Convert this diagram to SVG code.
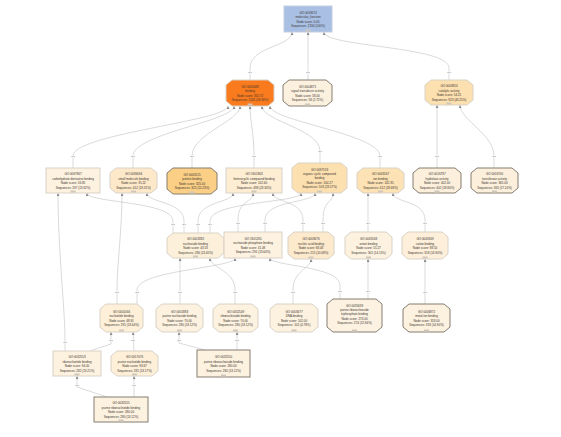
<svg xmlns="http://www.w3.org/2000/svg" width="561" height="437" viewBox="0 0 561 437">
<style>
.bg{fill:#ffffff}
.e{fill:none;stroke:#b4b4b4;stroke-width:0.5}
.lb{font-family:"Liberation Sans",Arial,sans-serif;font-size:2.4px;fill:#666;text-anchor:middle;stroke:#fff;stroke-width:0.8;paint-order:stroke}
.t{font-family:"Liberation Sans",Arial,sans-serif;font-size:3px;fill:#3a3530;text-anchor:middle}
.n{stroke:#d9d2c7;stroke-width:1}
.dk{stroke:#857c71;stroke-width:1}
.cr{fill:#fdf1df}
.m{fill:#cfc7bb}
</style>
<defs>
<marker id="ah" viewBox="0 0 6 6" refX="6" refY="3" markerWidth="3" markerHeight="3" markerUnits="userSpaceOnUse" orient="auto-start-reverse">
<path d="M0,0 L6,3 L0,6 z" fill="#8a8a8a"/>
</marker>
</defs>
<rect class="bg" x="0" y="0" width="561" height="437"/>

<g id="connectors">
<path class="e" marker-start="url(#ah)" d="M292,32 C292,47 250,46 250,68 L250,80"/>
<path class="e" marker-start="url(#ah)" d="M308,32 L308,80"/>
<path class="e" marker-start="url(#ah)" d="M324,32 C324,47 449,46 449,68 L449,80"/>
<path class="e" marker-start="url(#ah)" d="M228,106 C228,121 73,134 73,156 L73,168"/>
<path class="e" marker-start="url(#ah)" d="M234,106 C234,121 133,134 133,156 L133,168"/>
<path class="e" marker-start="url(#ah)" d="M240,106 C240,121 192,134 192,156 L192,168"/>
<path class="e" marker-start="url(#ah)" d="M250,106 C250,121 254,134 254,156 L254,168"/>
<path class="e" marker-start="url(#ah)" d="M262,106 C262,121 320,129 320,151 L320,163"/>
<path class="e" marker-start="url(#ah)" d="M270,106 C270,121 380,134 380,156 L380,168"/>
<path class="e" marker-start="url(#ah)" d="M437,105 L437,168"/>
<path class="e" marker-start="url(#ah)" d="M460,105 C460,120 494,134 494,156 L494,168"/>
<path class="e" marker-start="url(#ah)" d="M87,193 C87,203 173,201 173,221 L173,233"/>
<path class="e" marker-start="url(#ah)" d="M147,193 C147,203 184,201 184,221 L184,233"/>
<path class="e" marker-start="url(#ah)" d="M233,193 C233,203 198,201 198,221 L198,233"/>
<path class="e" marker-start="url(#ah)" d="M301,193 C301,203 210,201 210,221 L210,233"/>
<path class="e" marker-start="url(#ah)" d="M253,193 C253,203 238,200 238,220 L238,232"/>
<path class="e" marker-start="url(#ah)" d="M315,193 C315,203 265,200 265,220 L265,232"/>
<path class="e" marker-start="url(#ah)" d="M273,193 C273,203 303,200 303,220 L303,232"/>
<path class="e" marker-start="url(#ah)" d="M333,193 C333,203 323,200 323,220 L323,232"/>
<path class="e" marker-start="url(#ah)" d="M368,193 L368,232"/>
<path class="e" marker-start="url(#ah)" d="M393,193 C393,203 425,200 425,220 L425,232"/>
<path class="e" marker-start="url(#ah)" d="M58,193 C58,250 65,310 65,339 L65,351"/>
<path class="e" marker-start="url(#ah)" d="M122,193 C122,230 117,265 117,290 L117,304"/>
<path class="e" marker-start="url(#ah)" d="M235,258 C235,268 137,270 137,290 L137,304"/>
<path class="e" marker-start="url(#ah)" d="M180,258 L180,304"/>
<path class="e" marker-start="url(#ah)" d="M210,258 C210,268 235,270 235,290 L235,304"/>
<path class="e" marker-start="url(#ah)" d="M311,259 C311,269 293,270 293,290 L293,304"/>
<path class="e" marker-start="url(#ah)" d="M270,258 C270,266 340,266 340,285 L340,299"/>
<path class="e" marker-start="url(#ah)" d="M368,259 L368,299"/>
<path class="e" marker-start="url(#ah)" d="M425,259 L425,304"/>
<path class="e" marker-start="url(#ah)" d="M111,332 L111,344 L90,351"/>
<path class="e" marker-start="url(#ah)" d="M133,332 L134,351"/>
<path class="e" marker-start="url(#ah)" d="M179,332 L179,343 L205,350"/>
<path class="e" marker-start="url(#ah)" d="M237,332 L237,350"/>
<path class="e" marker-start="url(#ah)" d="M77,376 L77,387 L107,397"/>
<path class="e" marker-start="url(#ah)" d="M134,376 L134,397"/>
<text class="lb" x="250" y="73">is a</text>
<text class="lb" x="308" y="73">is a</text>
<text class="lb" x="449" y="73">is a</text>
<text class="lb" x="73" y="157">is a</text>
<text class="lb" x="133" y="157">is a</text>
<text class="lb" x="192" y="157">is a</text>
<text class="lb" x="254" y="157">is a</text>
<text class="lb" x="320" y="152">is a</text>
<text class="lb" x="380" y="157">is a</text>
<text class="lb" x="437" y="157">is a</text>
<text class="lb" x="494" y="157">is a</text>
<text class="lb" x="173" y="225">is a</text>
<text class="lb" x="184" y="225">is a</text>
<text class="lb" x="198" y="225">is a</text>
<text class="lb" x="210" y="225">is a</text>
<text class="lb" x="238" y="224">is a</text>
<text class="lb" x="265" y="224">is a</text>
<text class="lb" x="303" y="224">is a</text>
<text class="lb" x="323" y="224">is a</text>
<text class="lb" x="368" y="224">is a</text>
<text class="lb" x="425" y="224">is a</text>
<text class="lb" x="65" y="343">is a</text>
<text class="lb" x="117" y="293">is a</text>
<text class="lb" x="137" y="293">is a</text>
<text class="lb" x="180" y="293">is a</text>
<text class="lb" x="235" y="293">is a</text>
<text class="lb" x="293" y="293">is a</text>
<text class="lb" x="340" y="292">is a</text>
<text class="lb" x="368" y="292">is a</text>
<text class="lb" x="425" y="293">is a</text>
<text class="lb" x="111" y="341">is a</text>
<text class="lb" x="133" y="341">is a</text>
<text class="lb" x="179" y="341">is a</text>
<text class="lb" x="237" y="341">is a</text>
<text class="lb" x="77" y="386">is a</text>
<text class="lb" x="134" y="386">is a</text>
</g>

<g id="n-GO0003674">
<rect x="284" y="6" width="48" height="26" fill="#a9c0e4" stroke="#c3cde0" stroke-width="1"/>
<text class="t" x="308" y="13.5">GO:0003674</text>
<text class="t" x="308" y="18">molecular_function</text>
<text class="t" x="308" y="22.5">Node score: 0.00</text>
<text class="t" x="308" y="27">Sequences: 2134 (100%)</text>
<rect class="m" x="305.5" y="29.5" width="5" height="2"/>
</g>

<g id="n-GO0005488">
<polygon class="n" fill="#f97b1e" points="232,80 268,80 274,85 274,101 268,106 232,106 226,101 226,85"/>
<text class="t" x="250" y="87.5">GO:0005488</text>
<text class="t" x="250" y="92">binding</text>
<text class="t" x="250" y="96.5">Node score: 310.72</text>
<text class="t" x="250" y="101">Sequences: 1245 (58.34%)</text>
<rect class="m" x="247.5" y="103.5" width="5" height="2"/>
</g>

<g id="n-GO0004871">
<polygon class="dk" fill="#fcf1df" points="289,80 326,80 332,85 332,101 326,106 289,106 283,101 283,85"/>
<text class="t" x="307.5" y="87.5">GO:0004871</text>
<text class="t" x="307.5" y="92">signal transducer activity</text>
<text class="t" x="307.5" y="96.5">Node score: 58.00</text>
<text class="t" x="307.5" y="101">Sequences: 58 (2.72%)</text>
<rect class="m" x="305" y="103.5" width="5" height="2"/>
</g>

<g id="n-GO0003824">
<polygon class="n" fill="#fde0b0" points="431,80 467,80 473,85 473,100 467,105 431,105 425,100 425,85"/>
<text class="t" x="449" y="87">GO:0003824</text>
<text class="t" x="449" y="91.5">catalytic activity</text>
<text class="t" x="449" y="96">Node score: 54.21</text>
<text class="t" x="449" y="100.5">Sequences: 923 (43.25%)</text>
<rect class="m" x="446.5" y="102.5" width="5" height="2"/>
</g>

<g id="n-GO0097367">
<rect class="n cr" x="46" y="168" width="54" height="25"/>
<text class="t" x="73" y="175">GO:0097367</text>
<text class="t" x="73" y="179.5">carbohydrate derivative binding</text>
<text class="t" x="73" y="184">Node score: 16.85</text>
<text class="t" x="73" y="188.5">Sequences: 297 (13.92%)</text>
<rect class="m" x="70.5" y="190.5" width="5" height="2"/>
</g>

<g id="n-GO0036094">
<polygon class="n" fill="#fde9ca" points="116,168 151,168 157,173 157,188 151,193 116,193 110,188 110,173"/>
<text class="t" x="133.5" y="175">GO:0036094</text>
<text class="t" x="133.5" y="179.5">small molecule binding</text>
<text class="t" x="133.5" y="184">Node score: 35.22</text>
<text class="t" x="133.5" y="188.5">Sequences: 412 (19.31%)</text>
<rect class="m" x="131" y="190.5" width="5" height="2"/>
</g>

<g id="n-GO0005515">
<polygon class="dk" fill="#fbcf86" points="173,168 211,168 217,173 217,189 211,194 173,194 167,189 167,173"/>
<text class="t" x="192" y="175.5">GO:0005515</text>
<text class="t" x="192" y="180">protein binding</text>
<text class="t" x="192" y="184.5">Node score: 325.00</text>
<text class="t" x="192" y="189">Sequences: 325 (15.23%)</text>
<rect class="m" x="189.5" y="191.5" width="5" height="2"/>
</g>

<g id="n-GO1901363">
<rect class="n" fill="#fdedd3" x="226" y="168" width="56" height="25"/>
<text class="t" x="254" y="175">GO:1901363</text>
<text class="t" x="254" y="179.5">heterocyclic compound binding</text>
<text class="t" x="254" y="184">Node score: 102.60</text>
<text class="t" x="254" y="188.5">Sequences: 498 (23.34%)</text>
<rect class="m" x="251.5" y="190.5" width="5" height="2"/>
</g>

<g id="n-GO0097159">
<polygon class="n" fill="#fde0b0" points="298,163 341,163 347,168 347,188 341,193 298,193 292,188 292,168"/>
<text class="t" x="319.5" y="171">GO:0097159</text>
<text class="t" x="319.5" y="175">organic cyclic compound</text>
<text class="t" x="319.5" y="179">binding</text>
<text class="t" x="319.5" y="184">Node score: 104.27</text>
<text class="t" x="319.5" y="188">Sequences: 503 (23.57%)</text>
<rect class="m" x="317" y="190.5" width="5" height="2"/>
</g>

<g id="n-GO0043167">
<polygon class="n" fill="#fde2b5" points="363,168 398,168 404,173 404,188 398,193 363,193 357,188 357,173"/>
<text class="t" x="380.5" y="175">GO:0043167</text>
<text class="t" x="380.5" y="179.5">ion binding</text>
<text class="t" x="380.5" y="184">Node score: 142.35</text>
<text class="t" x="380.5" y="188.5">Sequences: 612 (28.68%)</text>
<rect class="m" x="378" y="190.5" width="5" height="2"/>
</g>

<g id="n-GO0016787">
<polygon class="dk" fill="#fcf0dc" points="419,168 455,168 461,173 461,188 455,193 419,193 413,188 413,173"/>
<text class="t" x="437" y="175">GO:0016787</text>
<text class="t" x="437" y="179.5">hydrolase activity</text>
<text class="t" x="437" y="184">Node score: 402.00</text>
<text class="t" x="437" y="188.5">Sequences: 402 (18.84%)</text>
<rect class="m" x="434.5" y="190.5" width="5" height="2"/>
</g>

<g id="n-GO0016740">
<polygon class="dk" fill="#fcf0dc" points="477,168 512,168 518,173 518,188 512,193 477,193 471,188 471,173"/>
<text class="t" x="494.5" y="175">GO:0016740</text>
<text class="t" x="494.5" y="179.5">transferase activity</text>
<text class="t" x="494.5" y="184">Node score: 365.00</text>
<text class="t" x="494.5" y="188.5">Sequences: 365 (17.10%)</text>
<rect class="m" x="492" y="190.5" width="5" height="2"/>
</g>

<g id="n-GO0001882">
<polygon class="n" fill="#fdf0da" points="173,233 218,233 224,238 224,253 218,258 173,258 167,253 167,238"/>
<text class="t" x="195.5" y="240">GO:0001882</text>
<text class="t" x="195.5" y="244.5">nucleoside binding</text>
<text class="t" x="195.5" y="249">Node score: 43.53</text>
<text class="t" x="195.5" y="253.5">Sequences: 286 (13.40%)</text>
<rect class="m" x="193" y="255.5" width="5" height="2"/>
</g>

<g id="n-GO1901265">
<rect class="n cr" x="224" y="232" width="58" height="26"/>
<text class="t" x="253" y="239.5">GO:1901265</text>
<text class="t" x="253" y="244">nucleoside phosphate binding</text>
<text class="t" x="253" y="248.5">Node score: 41.08</text>
<text class="t" x="253" y="253">Sequences: 291 (13.64%)</text>
<rect class="m" x="250.5" y="255.5" width="5" height="2"/>
</g>

<g id="n-GO0003676">
<polygon class="n" fill="#fde9cc" points="294,232 328,232 334,237 334,254 328,259 294,259 288,254 288,237"/>
<text class="t" x="311" y="240">GO:0003676</text>
<text class="t" x="311" y="244.5">nucleic acid binding</text>
<text class="t" x="311" y="249">Node score: 68.43</text>
<text class="t" x="311" y="253.5">Sequences: 215 (10.08%)</text>
<rect class="m" x="308.5" y="256.5" width="5" height="2"/>
</g>

<g id="n-GO0043168">
<polygon class="n cr" points="351,232 386,232 392,237 392,254 386,259 351,259 345,254 345,237"/>
<text class="t" x="368.5" y="240">GO:0043168</text>
<text class="t" x="368.5" y="244.5">anion binding</text>
<text class="t" x="368.5" y="249">Node score: 55.27</text>
<text class="t" x="368.5" y="253.5">Sequences: 301 (14.11%)</text>
<rect class="m" x="366" y="256.5" width="5" height="2"/>
</g>

<g id="n-GO0043169">
<polygon class="n" fill="#fdefd9" points="408,232 442,232 448,237 448,254 442,259 408,259 402,254 402,237"/>
<text class="t" x="425" y="240">GO:0043169</text>
<text class="t" x="425" y="244.5">cation binding</text>
<text class="t" x="425" y="249">Node score: 88.50</text>
<text class="t" x="425" y="253.5">Sequences: 318 (14.90%)</text>
<rect class="m" x="422.5" y="256.5" width="5" height="2"/>
</g>

<g id="n-GO0000166">
<polygon class="n" fill="#fdefd8" points="106,304 137,304 143,309 143,327 137,332 106,332 100,327 100,309"/>
<text class="t" x="121.5" y="312.5">GO:0000166</text>
<text class="t" x="121.5" y="317">nucleotide binding</text>
<text class="t" x="121.5" y="321.5">Node score: 48.91</text>
<text class="t" x="121.5" y="326">Sequences: 291 (13.64%)</text>
<rect class="m" x="119" y="329.5" width="5" height="2"/>
</g>

<g id="n-GO0001883">
<polygon class="n cr" points="162,304 197,304 203,309 203,327 197,332 162,332 156,327 156,309"/>
<text class="t" x="179.5" y="312.5">GO:0001883</text>
<text class="t" x="179.5" y="317">purine nucleoside binding</text>
<text class="t" x="179.5" y="321.5">Node score: 70.00</text>
<text class="t" x="179.5" y="326">Sequences: 280 (13.12%)</text>
<rect class="m" x="177" y="329.5" width="5" height="2"/>
</g>

<g id="n-GO0032549">
<polygon class="n cr" points="219,304 252,304 258,309 258,327 252,332 219,332 213,327 213,309"/>
<text class="t" x="235.5" y="312.5">GO:0032549</text>
<text class="t" x="235.5" y="317">ribonucleoside binding</text>
<text class="t" x="235.5" y="321.5">Node score: 70.00</text>
<text class="t" x="235.5" y="326">Sequences: 280 (13.12%)</text>
<rect class="m" x="233" y="329.5" width="5" height="2"/>
</g>

<g id="n-GO0003677">
<polygon class="n cr" points="276,304 312,304 318,309 318,327 312,332 276,332 270,327 270,309"/>
<text class="t" x="294" y="312.5">GO:0003677</text>
<text class="t" x="294" y="317">DNA binding</text>
<text class="t" x="294" y="321.5">Node score: 102.00</text>
<text class="t" x="294" y="326">Sequences: 102 (4.78%)</text>
<rect class="m" x="291.5" y="329.5" width="5" height="2"/>
</g>

<g id="n-GO0035639">
<polygon class="dk" fill="#fdf2e2" points="333,299 376,299 382,304 382,327 376,332 333,332 327,327 327,304"/>
<text class="t" x="354.5" y="307">GO:0035639</text>
<text class="t" x="354.5" y="311">purine ribonucleoside</text>
<text class="t" x="354.5" y="315">triphosphate binding</text>
<text class="t" x="354.5" y="320">Node score: 274.00</text>
<text class="t" x="354.5" y="324">Sequences: 274 (12.84%)</text>
<rect class="m" x="352" y="329.5" width="5" height="2"/>
</g>

<g id="n-GO0046872">
<polygon class="dk" fill="#fdf1df" points="409,304 444,304 450,309 450,327 444,332 409,332 403,327 403,309"/>
<text class="t" x="426.5" y="312.5">GO:0046872</text>
<text class="t" x="426.5" y="317">metal ion binding</text>
<text class="t" x="426.5" y="321.5">Node score: 318.00</text>
<text class="t" x="426.5" y="326">Sequences: 318 (14.90%)</text>
<rect class="m" x="424" y="329.5" width="5" height="2"/>
</g>

<g id="n-GO0032553">
<rect class="n cr" x="53" y="351" width="48" height="25"/>
<text class="t" x="77" y="358">GO:0032553</text>
<text class="t" x="77" y="362.5">ribonucleotide binding</text>
<text class="t" x="77" y="367">Node score: 94.00</text>
<text class="t" x="77" y="371.5">Sequences: 282 (13.21%)</text>
<rect class="m" x="74.5" y="373.5" width="5" height="2"/>
</g>

<g id="n-GO0017076">
<polygon class="n" fill="#fdefd8" points="117,351 152,351 158,356 158,371 152,376 117,376 111,371 111,356"/>
<text class="t" x="134.5" y="358">GO:0017076</text>
<text class="t" x="134.5" y="362.5">purine nucleotide binding</text>
<text class="t" x="134.5" y="367">Node score: 93.67</text>
<text class="t" x="134.5" y="371.5">Sequences: 281 (13.17%)</text>
<rect class="m" x="132" y="373.5" width="5" height="2"/>
</g>

<g id="n-GO0032550">
<rect class="dk cr" x="197" y="350" width="53" height="27"/>
<text class="t" x="223.5" y="358">GO:0032550</text>
<text class="t" x="223.5" y="362.5">purine ribonucleoside binding</text>
<text class="t" x="223.5" y="367">Node score: 280.00</text>
<text class="t" x="223.5" y="371.5">Sequences: 280 (13.12%)</text>
<rect class="m" x="221" y="374.5" width="5" height="2"/>
</g>

<g id="n-GO0032555">
<rect class="dk cr" x="94" y="397" width="54" height="25"/>
<text class="t" x="121" y="404">GO:0032555</text>
<text class="t" x="121" y="408.5">purine ribonucleotide binding</text>
<text class="t" x="121" y="413">Node score: 280.00</text>
<text class="t" x="121" y="417.5">Sequences: 280 (13.12%)</text>
<rect class="m" x="118.5" y="419.5" width="5" height="2"/>
</g>
</svg>
